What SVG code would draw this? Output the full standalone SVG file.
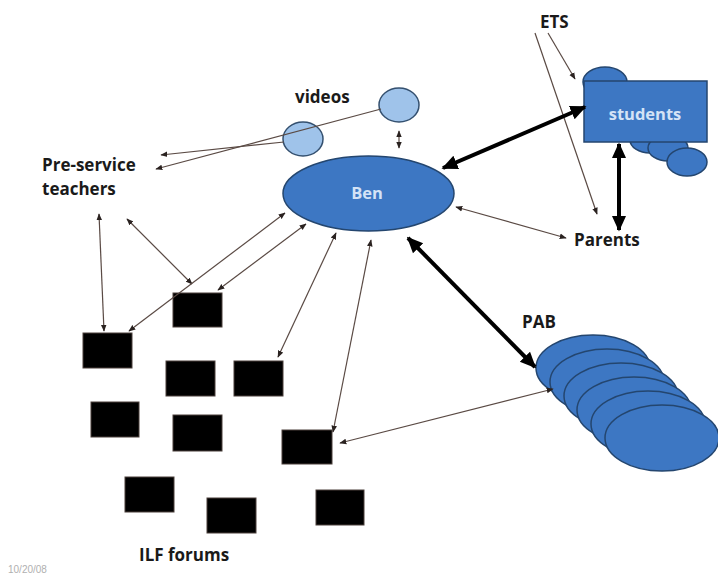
<svg xmlns="http://www.w3.org/2000/svg" width="718" height="577" viewBox="0 0 718 577">
  <defs>
    <marker id="thin" viewBox="0 0 10 10" refX="9" refY="5" markerWidth="7" markerHeight="7" markerUnits="userSpaceOnUse" orient="auto-start-reverse">
      <path d="M0,1 L10,5 L0,9 z" fill="#2a2220"/>
    </marker>
    <marker id="thick" viewBox="0 0 10 10" refX="9" refY="5" markerWidth="16" markerHeight="16" markerUnits="userSpaceOnUse" orient="auto-start-reverse">
      <path d="M0,0.5 L10,5 L0,9.5 z" fill="#000"/>
    </marker>
  </defs>
  <style>
    .lbl { font-family: "Open Sans", "Liberation Sans", Arial, sans-serif; font-weight: bold; font-size: 17px; fill: #1a1a1a; }
    .inner { font-family: "Open Sans", "Liberation Sans", Arial, sans-serif; font-weight: bold; font-size: 16.5px; fill: #d4e3f6; text-anchor: middle; }
    .blue { fill: #3d77c3; stroke: #24466f; stroke-width: 1.5; }
    .light { fill: #9fc3ea; stroke: #34506f; stroke-width: 1.5; }
    .forum { fill: #000; stroke: #4a3f3a; stroke-width: 1; }
    .thin2 { fill: none; stroke: #5a4a44; stroke-width: 1.2; marker-start: url(#thin); marker-end: url(#thin); }
    .thin1 { fill: none; stroke: #5a4a44; stroke-width: 1.2; marker-end: url(#thin); }
    .bold2 { fill: none; stroke: #000; stroke-width: 4; marker-start: url(#thick); marker-end: url(#thick); }
  </style>
  <rect width="718" height="577" fill="#fff"/>

  <!-- PAB: a stack of overlapping ellipses -->
  <g id="pab">
    <ellipse class="blue" cx="593" cy="368" rx="57" ry="33"/>
    <ellipse class="blue" cx="607" cy="382" rx="57" ry="33"/>
    <ellipse class="blue" cx="621" cy="396" rx="57" ry="33"/>
    <ellipse class="blue" cx="634" cy="410" rx="57" ry="33"/>
    <ellipse class="blue" cx="648" cy="424" rx="57" ry="33"/>
    <ellipse class="blue" cx="662" cy="438" rx="57" ry="33"/>
    <text class="lbl" x="522" y="328">PAB</text>
  </g>

  <!-- students: a box with a few ellipses peeking out -->
  <g id="students">
    <ellipse class="blue" cx="605" cy="82" rx="22" ry="15"/>
    <ellipse class="blue" cx="650" cy="140" rx="20" ry="13"/>
    <ellipse class="blue" cx="668" cy="148" rx="20" ry="13"/>
    <ellipse class="blue" cx="687" cy="162" rx="20" ry="14"/>
    <rect class="blue" x="584" y="81" width="123" height="61"/>
    <text class="inner" x="645" y="120">students</text>
  </g>

  <g id="ben">
    <ellipse class="blue" cx="368.5" cy="193.5" rx="85.5" ry="37.5"/>
    <text class="inner" x="367" y="199">Ben</text>
  </g>

  <g id="videos">
    <ellipse class="light" cx="399" cy="105" rx="20" ry="17"/>
    <ellipse class="light" cx="303" cy="139" rx="20" ry="17"/>
    <text class="lbl" x="295" y="103">videos</text>
  </g>

  <g id="preservice">
    <text class="lbl" x="42" y="171">Pre-service</text>
    <text class="lbl" x="42" y="195">teachers</text>
  </g>

  <g id="ets"><text class="lbl" x="540" y="28">ETS</text></g>
  <g id="parents"><text class="lbl" x="574" y="246">Parents</text></g>

  <g id="ilf-forums">
    <rect class="forum" x="83" y="333" width="49" height="35"/>
    <rect class="forum" x="173" y="293" width="49" height="34"/>
    <rect class="forum" x="166" y="361" width="49" height="35"/>
    <rect class="forum" x="234" y="361" width="49" height="35"/>
    <rect class="forum" x="91" y="402" width="48" height="35"/>
    <rect class="forum" x="173" y="415" width="49" height="36"/>
    <rect class="forum" x="282" y="430" width="50" height="34"/>
    <rect class="forum" x="125" y="477" width="49" height="35"/>
    <rect class="forum" x="207" y="498" width="49" height="35"/>
    <rect class="forum" x="316" y="490" width="48" height="35"/>
    <text class="lbl" x="139" y="561">ILF forums</text>
  </g>

  <text x="8" y="573" font-family="Liberation Sans, Arial, sans-serif" font-size="10" fill="#b0b0b0">10/20/08</text>

  <g id="connectors">
    <!-- videos to teachers -->
    <line class="thin1" x1="381" y1="109" x2="156" y2="169"/>
    <line class="thin1" x1="284" y1="142" x2="161" y2="155"/>
    <!-- videos / Ben -->
    <line class="thin2" x1="399" y1="131" x2="399" y2="148"/>
    <!-- teachers to forums -->
    <line class="thin2" x1="99" y1="214" x2="104" y2="331"/>
    <line class="thin2" x1="127" y1="219" x2="192" y2="284"/>
    <!-- Ben to forums -->
    <line class="thin2" x1="285" y1="213" x2="129" y2="331"/>
    <line class="thin2" x1="306" y1="224" x2="218" y2="290"/>
    <line class="thin2" x1="336" y1="233" x2="278" y2="357"/>
    <line class="thin2" x1="371" y1="240" x2="333" y2="432"/>
    <!-- PAB to forum -->
    <line class="thin2" x1="553" y1="389" x2="340" y2="443"/>
    <!-- Ben to Parents -->
    <line class="thin2" x1="456" y1="207" x2="566" y2="238"/>
    <!-- ETS -->
    <line class="thin1" x1="548" y1="33" x2="575" y2="79"/>
    <line class="thin1" x1="535" y1="33" x2="597" y2="214"/>
    <!-- strong links -->
    <line class="bold2" x1="443" y1="168" x2="585" y2="107"/>
    <line class="bold2" x1="619" y1="144" x2="619" y2="230"/>
    <line class="bold2" x1="408" y1="238" x2="535" y2="367"/>
  </g>
</svg>
